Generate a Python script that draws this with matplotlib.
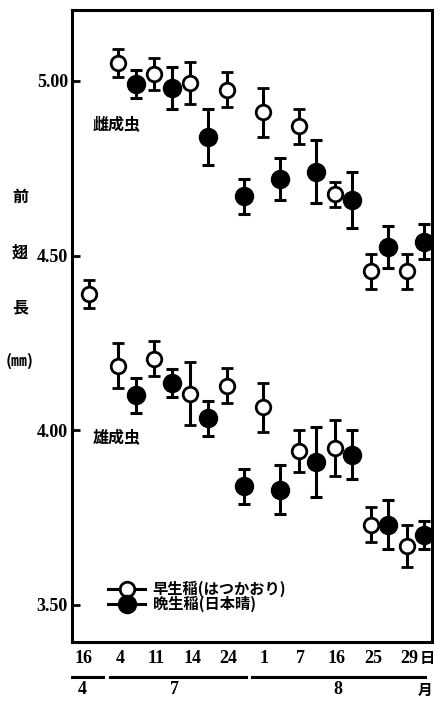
import numpy as np
import matplotlib
matplotlib.use('Agg')
from matplotlib import pyplot as plt
from matplotlib.lines import Line2D

#---------------
# Data
#---------------

# sampling dates
date_labels = ['16', '4', '11', '14', '24', '1', '7', '16', '25', '29']
month_labels = ['4', '7', '8']
ytick_vals = [3.5, 4.0, 4.5, 5.0]
ytick_labels = ['3.50', '4.00', '4.50', '5.00']

# 16 April: single point (open circle)
april_val = 4.39
april_err = 0.04

# female adults, 4 Jul .. 29 Aug
fem_early = [5.05, 5.02, 4.995, 4.975, 4.91, 4.87, 4.675, 4.455, 4.455]
fem_early_err = [0.04, 0.045, 0.06, 0.05, 0.07, 0.05, 0.035, 0.05, 0.05]
fem_late = [4.99, 4.98, 4.84, 4.67, 4.72, 4.74, 4.66, 4.525, 4.54]
fem_late_err = [0.04, 0.06, 0.08, 0.05, 0.06, 0.09, 0.08, 0.06, 0.05]

# male adults, 4 Jul .. 29 Aug
male_early = [4.185, 4.205, 4.105, 4.127, 4.066, 3.94, 3.95, 3.73, 3.67]
male_early_err = [0.065, 0.05, 0.09, 0.05, 0.07, 0.06, 0.08, 0.05, 0.06]
male_late = [4.10, 4.135, 4.035, 3.84, 3.83, 3.91, 3.93, 3.73, 3.70]
male_late_err = [0.05, 0.04, 0.05, 0.05, 0.07, 0.10, 0.07, 0.07, 0.04]

label_early = '早生稲(はつかおり)'
label_late = '晩生稲(日本晴)'

#---------------
# Plot
#---------------
cjk = ['Noto Sans CJK JP', 'DejaVu Sans']
num_font = 'Liberation Serif'

fig = plt.figure(figsize=(4.35, 7.03), dpi=100)
ax = fig.add_axes([72 / 435, 61 / 703, 360 / 435, 632 / 703])

x_days = np.arange(1, 10)
x_open = x_days.astype(float)
x_fill = x_days + 0.48

eb_kw = dict(ecolor='black', elinewidth=2.2, capsize=4, capthick=2.2, ls='none', clip_on=False)
open_kw = dict(fmt='o', mfc='white', mec='black', mew=2.0, ms=10.5)
fill_kw = dict(fmt='o', mfc='black', mec='black', ms=13)

ax.errorbar([0.2], [april_val], yerr=[april_err], **open_kw, **eb_kw)
ax.errorbar(x_open, fem_early, yerr=fem_early_err, **open_kw, **eb_kw)
ax.errorbar(x_fill, fem_late, yerr=fem_late_err, **fill_kw, **eb_kw)
ax.errorbar(x_open, male_early, yerr=male_early_err, **open_kw, **eb_kw)
ax.errorbar(x_fill, male_late, yerr=male_late_err, **fill_kw, **eb_kw)

ax.set_xlim(-0.28, 9.69)
ax.set_ylim(3.394, 5.203)

# axes look
for s in ax.spines.values():
    s.set_linewidth(2.2)
ax.set_yticks(ytick_vals)
ax.set_yticklabels(ytick_labels, fontfamily=num_font, fontweight='bold', fontsize=13)
ax.tick_params(axis='y', direction='in', length=6, width=2, pad=3)
ax.set_xticks(np.arange(10) + 0.05)
ax.set_xticklabels(date_labels, fontfamily=num_font, fontweight='bold', fontsize=13)
ax.tick_params(axis='x', length=0, pad=6)

# group labels
ax.text(0.3, 4.875, '雌成虫', fontfamily=cjk, fontweight='bold', fontsize=11.5, va='center')
ax.text(0.3, 3.98, '雄成虫', fontfamily=cjk, fontweight='bold', fontsize=11.5, va='center')

# legend
h1 = Line2D([], [], color='black', lw=2.2, marker='o', mfc='white', mec='black', mew=2.0, ms=10.5)
h2 = Line2D([], [], color='black', lw=2.2, marker='o', mfc='black', ms=13)
leg = ax.legend([h1, h2], [label_early, label_late], loc='lower left',
                bbox_to_anchor=(0.08, 0.035), frameon=False, handlelength=2.4,
                handletextpad=0.5, labelspacing=-0.1, borderpad=0,
                prop={'family': cjk, 'weight': 'bold', 'size': 11})

# y label, stacked characters
for ch, yp in zip(['前', '翅', '長', '(㎜)'], [197, 252, 307, 361]):
    fig.text(20 / 435, 1 - yp / 703, ch, fontfamily=cjk, fontweight='bold',
             fontsize=11.5, ha='center', va='center')

# day / month row under axis
fig.text(427 / 435, 1 - 658 / 703, '日', fontfamily=cjk, fontweight='bold',
         fontsize=11, ha='center', va='center')
for x0, x1 in [(72, 103), (110, 246), (252, 425)]:
    fig.add_artist(Line2D([x0 / 435, x1 / 435], [1 - 677 / 703, 1 - 677 / 703],
                          color='black', lw=2.2))
for lab, xp in zip(month_labels, [82, 175, 338]):
    fig.text(xp / 435, 1 - 690 / 703, lab, fontfamily=num_font, fontweight='bold',
             fontsize=13, ha='center', va='center')
fig.text(425 / 435, 1 - 690 / 703, '月', fontfamily=cjk, fontweight='bold',
         fontsize=10.5, ha='center', va='center')

plt.savefig('out.png', dpi=100)
